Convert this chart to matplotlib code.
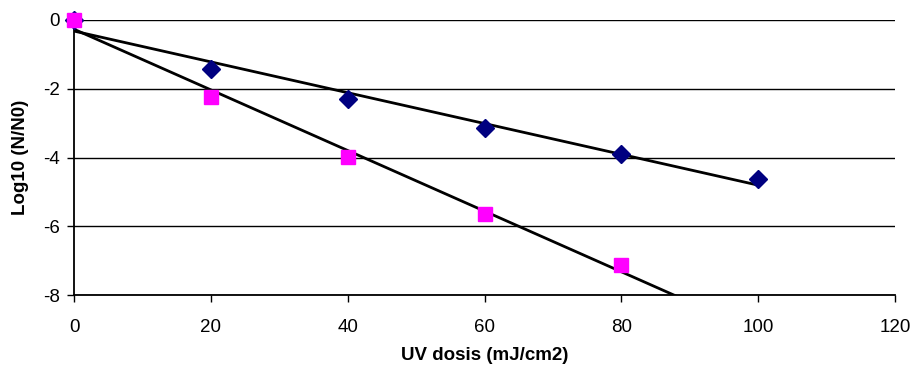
import matplotlib
matplotlib.use('Agg')
import matplotlib.pyplot as plt
import numpy as np

plt.rcParams['font.family'] = ['Liberation Sans', 'DejaVu Sans']
plt.rcParams['axes.unicode_minus'] = False

# UV dose (mJ/cm2) and log reduction for both series
dose_a = [0, 20, 40, 60, 80, 100]
log_a = [0, -1.42, -2.3, -3.14, -3.9, -4.62]
dose_b = [0, 20, 40, 60, 80]
log_b = [0, -2.24, -3.98, -5.64, -7.12]

fig = plt.figure(figsize=(9.14, 3.74), dpi=100)
ax = fig.add_axes([74 / 914, 1 - 295 / 374, (895 - 74) / 914, (295 - 20) / 374])

# linear trend lines
ka = np.polyfit(dose_a, log_a, 1)
xa = np.array([0, 100])
ax.plot(xa, np.polyval(ka, xa), color='black', lw=2, zorder=2)
kb = np.polyfit(dose_b, log_b, 1)
xb = np.array([0, 120])
ax.plot(xb, np.polyval(kb, xb), color='black', lw=2, zorder=2)

ax.plot(dose_a, log_a, 'D', color='#000080', ms=9, zorder=3, clip_on=False)
ax.plot(dose_b, log_b, 's', color='#FF00FF', ms=10, zorder=4, clip_on=False)

ax.set_xlim(0, 120)
ax.set_ylim(-8, 0)
ax.set_xticks(range(0, 121, 20))
ax.set_yticks(range(-8, 1, 2))
ax.yaxis.grid(True, color='black', lw=1)
ax.set_axisbelow(True)
for s in ['top', 'right']:
    ax.spines[s].set_visible(False)
ax.spines['left'].set_linewidth(1.3)
ax.spines['bottom'].set_linewidth(1.3)
ax.tick_params(direction='out', length=5, width=1, labelsize=13.5, color='black')
ax.tick_params(axis='x', pad=12)
ax.tick_params(axis='y', pad=5)

ax.set_xlabel('UV dosis (mJ/cm2)', fontsize=13.5, fontweight='bold', labelpad=8)
ax.set_ylabel('Log10 (N/N0)', fontsize=13.5, fontweight='bold', labelpad=10)

fig.savefig('out.png', dpi=100)
